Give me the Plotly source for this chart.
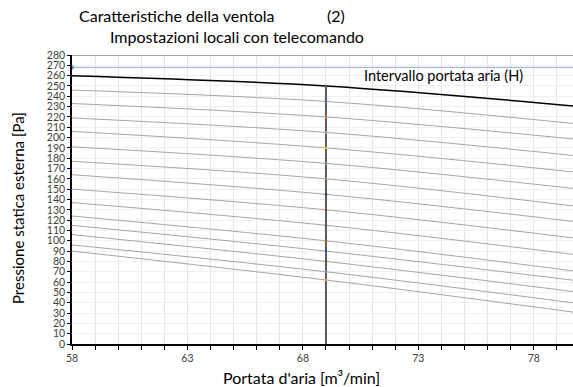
import plotly.graph_objects as go

# ---- data ----
flow_x = [58, 69, 80]
high_curve = [260, 250, 230]
esp_curves = [
    [246, 235, 213],
    [233, 220, 198],
    [219, 205, 182],
    [206, 190, 166],
    [191, 175, 150],
    [177, 160, 133],
    [164, 145, 118],
    [150, 130, 102],
    [137, 115, 86],
    [124, 100, 70],
    [115, 90, 61],
    [106, 80, 50],
    [96, 70, 39],
    [90, 62, 30],
]
set_flow = 69
set_flow_y = [0, 250]
limit_x = [58, 80]
limit_y = [268, 268]
dot_colors = ["#4472C4", "#ED7D31", "#A5A5A5", "#FFC000", "#5B9BD5", "#70AD47",
              "#264478", "#9E480E", "#636363", "#997300", "#255E91", "#43682B",
              "#698ED0", "#F1975A"]
x_ticks = [58, 63, 68, 73, 78]
y_ticks = list(range(0, 281, 10))

FONT = "Lato"
fig = go.Figure()

for c in esp_curves:
    fig.add_trace(go.Scatter(x=flow_x, y=c, mode="lines", line=dict(color="#A6A6A6", width=1, shape="spline"),
                             hoverinfo="skip", showlegend=False))

fig.add_trace(go.Scatter(x=flow_x, y=high_curve, mode="lines", line=dict(color="#000000", width=1.5, shape="spline"),
                         showlegend=False))

fig.add_trace(go.Scatter(x=limit_x, y=limit_y, mode="lines+markers", line=dict(color="#8FAADC", width=1),
                         marker=dict(size=[4, 0], color="#4472C4", symbol="diamond"), showlegend=False))

fig.add_trace(go.Scatter(x=[set_flow, set_flow], y=set_flow_y, mode="lines",
                         line=dict(color="#595959", width=2), showlegend=False))

fig.add_trace(go.Scatter(x=[set_flow] * len(esp_curves), y=[c[1] for c in esp_curves], mode="markers",
                         marker=dict(size=2.5, color=dot_colors), showlegend=False))

fig.update_layout(
    width=573, height=387,
    margin=dict(l=72, r=0, t=55, b=43),
    paper_bgcolor="white", plot_bgcolor="white",
    font=dict(family=FONT, color="#404040", size=10),
    xaxis=dict(range=[58, 79.7], tickvals=x_ticks, ticks="outside", ticklen=4, tickcolor="#000",
               showline=True, linecolor="#000", linewidth=1.5, gridcolor="#E6E6E6", gridwidth=1,
               zeroline=False, tickfont=dict(size=10.5, color="#404040"),
               minor=dict(dtick=1, tick0=58, ticks="outside", ticklen=4, tickcolor="#000",
                          showgrid=True, gridcolor="#E6E6E6")),
    yaxis=dict(range=[0, 280], tickvals=y_ticks, ticks="outside", ticklen=3, tickcolor="#000",
               showline=True, linecolor="#000", linewidth=1.5, gridcolor="#F0F0F0",
               zeroline=False, tickfont=dict(size=10.5, color="#404040")),
    shapes=[dict(type="line", xref="paper", yref="y", x0=0, x1=1, y0=280, y1=280,
                 line=dict(color="#A6A6A6", width=2))],
    annotations=[
        dict(text="Caratteristiche della ventola", x=77, y=15, xanchor="left", yanchor="middle",
             showarrow=False, font=dict(size=16, color="#000")),
        dict(text="(2)", x=325, y=15, xanchor="left", yanchor="middle", showarrow=False,
             font=dict(size=16, color="#000")),
        dict(text="Impostazioni locali con telecomando", x=108, y=37, xanchor="left", yanchor="middle",
             showarrow=False, font=dict(size=16, color="#000")),
        dict(text="Intervallo portata aria (H)", x=74.1, y=259.7, xref="x", yref="y",
             xanchor="center", yanchor="middle",
             showarrow=False, font=dict(size=14.5, color="#000")),
        dict(text="Portata d'aria [m³/min]", x=301, y=377, xanchor="center", yanchor="middle",
             showarrow=False, font=dict(size=16, color="#000")),
        dict(text="Pressione statica esterna [Pa]", x=18, y=208, textangle=-90, xanchor="center",
             yanchor="middle", showarrow=False, font=dict(size=15, color="#000")),
    ],
)

# convert pixel-positioned annotations to paper coords
W, H = 573, 387
L, R, T, B = 72, 0, 55, 43
pw, ph = W - L - R, H - T - B
new_ann = []
for a in fig.layout.annotations:
    if a.xref == "x":
        new_ann.append(a)
        continue
    a.xref = "paper"
    a.yref = "paper"
    px, py = a.x, a.y
    a.x = (px - L) / pw
    a.y = (H - B - py) / ph
    new_ann.append(a)
fig.layout.annotations = new_ann

fig.write_html("out.html")
